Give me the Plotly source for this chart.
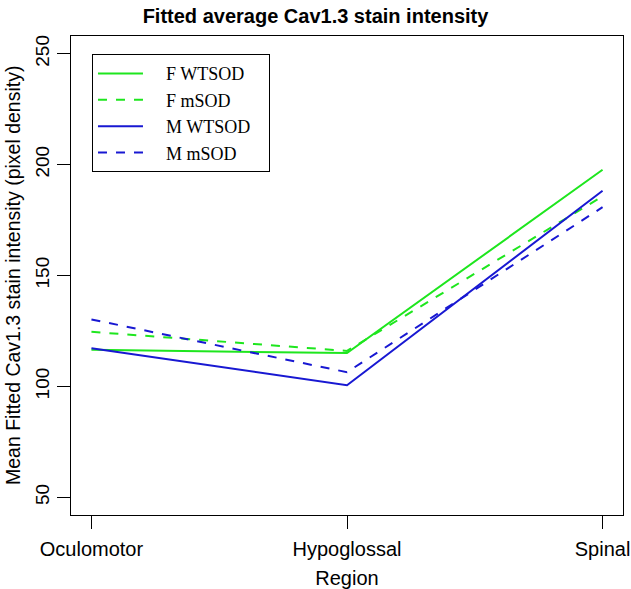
import plotly.graph_objects as go  # interactive charts

# regions on the x axis
regions = ['Oculomotor', 'Hypoglossal', 'Spinal']
region_pos = [1, 2, 3]

# fitted mean stain intensity for each group (pixel density)
f_wtsod = [116.5, 115.0, 197.7]
f_msod = [124.6, 116.0, 185.7]
m_wtsod = [117.2, 100.5, 188.2]
m_msod = [130.2, 106.4, 180.8]

group_names = ['F WTSOD', 'F mSOD', 'M WTSOD', 'M mSOD']

y_ticks = [50, 100, 150, 200, 250]

green = '#1ee61e'
blue = '#1818d2'

fig = go.Figure()

# one line per sex / genotype group
pad = '\u00a0'
series = [(f_wtsod, green, 'solid'), (f_msod, green, 'dash'),
          (m_wtsod, blue, 'solid'), (m_msod, blue, 'dash')]
for name, (vals, col, dash) in zip(group_names, series):
    fig.add_trace(go.Scatter(x=region_pos, y=vals, mode='lines',
                             name=pad * 4 + name + pad * 3,
                             line=dict(color=col, width=2, dash=dash)))

fig.update_layout(
    width=631, height=589,
    margin=dict(l=71, r=8, t=36, b=74),
    paper_bgcolor='white', plot_bgcolor='white',
    font=dict(family='Liberation Sans, Arial, sans-serif', size=20, color='black'),
    title=dict(text='<b>Fitted average Cav1.3 stain intensity</b>',
               x=0.5, xanchor='center', y=0.972, yanchor='middle',
               font=dict(size=20)),
    legend=dict(x=0.038, y=0.962, xanchor='left', yanchor='top',
                bordercolor='black', borderwidth=1, bgcolor='white',
                font=dict(family='Liberation Serif, DejaVu Serif, serif', size=18),
                itemwidth=45, tracegroupgap=0),
    showlegend=True,
)

fig.update_xaxes(range=[0.92, 3.08], tickvals=region_pos, ticktext=regions,
                 tickfont=dict(size=20), ticklabelstandoff=3, automargin=False,
                 showgrid=False, zeroline=False, showline=True, linecolor='black',
                 linewidth=1, mirror=True, ticks='outside', ticklen=13,
                 tickcolor='black',
                 title=dict(text='Region', standoff=15, font=dict(size=20)))
fig.update_yaxes(range=[42, 258], tickvals=y_ticks, tickangle=-90,
                 tickfont=dict(size=19), automargin=False,
                 showgrid=False, zeroline=False, showline=True, linecolor='black',
                 linewidth=1, mirror=True, ticks='outside', ticklen=13,
                 tickcolor='black')

# y axis title placed as in the reference (further left than the axis standoff allows)
fig.add_annotation(text='Mean Fitted Cav1.3 stain intensity (pixel density)',
                   xref='paper', yref='paper', x=-0.106, y=0.5,
                   xanchor='center', yanchor='middle', textangle=-90,
                   showarrow=False, font=dict(size=19.5))

# drop the browser's default 8px body margin so the figure sits at the page corner
fig.write_html('out.html', config={'displayModeBar': False},
               post_script="document.body.style.margin='0';")
